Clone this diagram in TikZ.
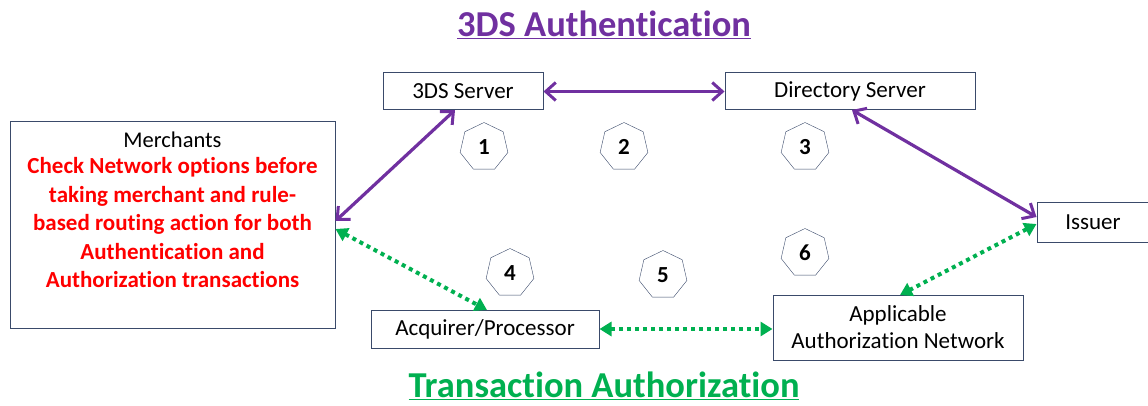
\documentclass[tikz,border=0pt]{standalone}
\usepackage{fontspec}
\setmainfont[Ligatures=NoCommon]{Carlito}
\usetikzlibrary{arrows.meta,shapes.geometric}
\definecolor{pur}{HTML}{7030A0}
\definecolor{grn}{HTML}{00B050}
\definecolor{bx}{HTML}{3A4A6A}
\begin{document}
\begin{tikzpicture}[x=1pt,y=-1pt,
  box/.style={draw=bx,line width=1pt,fill=white,inner sep=0pt,font=\fontsize{23}{26}\selectfont},
  hept/.style={draw=bx,regular polygon,regular polygon sides=7,minimum size=49pt,inner sep=0pt,font=\bfseries\fontsize{23}{26}\selectfont},
  purarrow/.style={draw=pur,line width=3.2pt,{Straight Barb[length=10pt,width=18pt,line width=3pt]}-{Straight Barb[length=10pt,width=18pt,line width=3pt]}},
  grnarrow/.style={draw=grn,line width=4pt,dash pattern=on 4pt off 4pt,{Triangle[length=12pt,width=14pt]}-{Triangle[length=12pt,width=14pt]}},
  title/.style={font=\bfseries\fontsize{36.5}{40}\selectfont}]
\useasboundingbox (0,0) rectangle (1148,406);
% titles
\node[title,text=pur] (t1) at (604,25) {\underline{3DS Authentication}};
\node[title,text=grn] (t2) at (604,386) {\underline{Transaction Authorization}};
% boxes
\node[box,minimum width=325pt,minimum height=206pt] (merch) at (172.5,225) {};
\node[font=\fontsize{22.5}{26}\selectfont,anchor=north] (mt) at (172.5,128) {Merchants};
\node[font=\bfseries\fontsize{23}{28.5}\selectfont,text=red,align=center,anchor=north] (mr) at (172.5,154)
  {Check Network options before\\taking merchant and rule-\\based routing action for both\\Authentication and\\Authorization transactions};
\node[box,minimum width=160pt,minimum height=37pt] (tds) at (463,91.5) {3DS Server};
\node[box,minimum width=250pt,minimum height=37pt] (ds) at (850,91.5) {Directory Server};
\node[box,minimum width=112pt,minimum height=39pt] (iss) at (1093,222.5) {Issuer};
\node[box,minimum width=228pt,minimum height=38pt] (acq) at (485,329) {Acquirer/Processor};
\node[box,minimum width=250pt,minimum height=65pt,align=center,font=\fontsize{23}{27}\selectfont] (net) at (898,327.5) {Applicable\\Authorization Network};
% heptagons
\node[hept] (h1) at (484,147) {1};
\node[hept] (h2) at (624,147) {2};
\node[hept] (h3) at (805,147) {3};
\node[hept] (h4) at (510,273) {4};
\node[hept] (h5) at (663,275) {5};
\node[hept] (h6) at (805,253) {6};
% connectors
\coordinate (m1) at (merch.east |- 0,221);
\coordinate (m2) at (merch.east |- 0,229);
\coordinate (tb) at (455,110);
\coordinate (db) at (852,110);
\coordinate (il) at (iss.west |- 0,217);
\coordinate (il2) at (iss.west |- 0,224);
\coordinate (at) at (487,310);
\coordinate (nt) at (900,295);
\draw[purarrow] (m1) -- (tb);
\draw[purarrow] (tds.east) -- (ds.west);
\draw[purarrow] (db) -- (il);
\draw[grnarrow] (m2) -- (at);
\draw[grnarrow] (acq.east) -- (net.west |- acq.east);
\draw[grnarrow] (il2) -- (nt);
\end{tikzpicture}
\end{document}
